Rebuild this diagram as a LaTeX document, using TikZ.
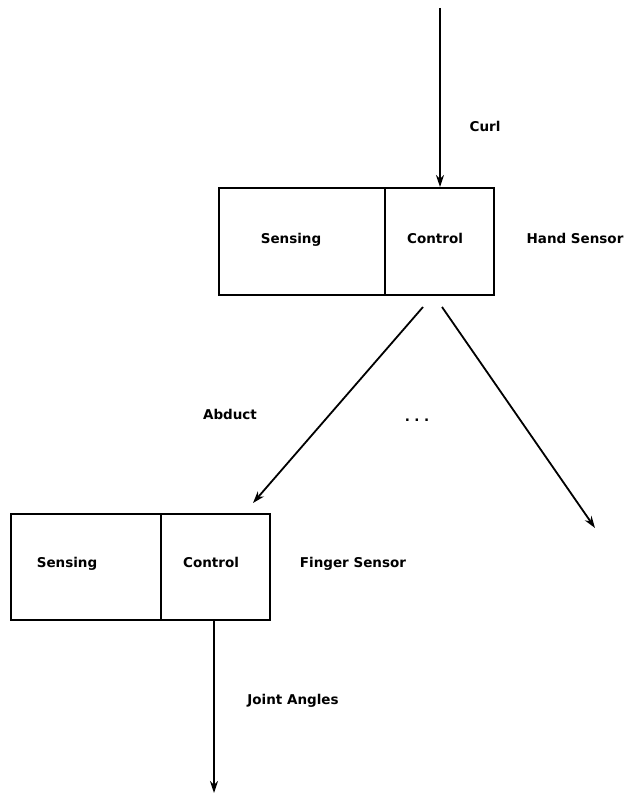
\documentclass[tikz,border=0pt]{standalone}
\usepackage{fontspec}
\setmainfont{DejaVu Sans}
\usetikzlibrary{arrows.meta}
\begin{document}
\begin{tikzpicture}[x=1pt,y=-1pt,
  lbl/.style={font=\fontsize{13.5}{16}\selectfont\bfseries, inner sep=0pt, text height=10pt, text depth=3pt},
  cell/.style={draw, line width=1.9pt, inner sep=0pt, anchor=north west},
  conn/.style={line width=1.8pt, -{Stealth[length=12pt,width=8pt]}}]
\useasboundingbox (0,0) rectangle (629,794);
% top box
\node[cell, minimum width=166pt, minimum height=107pt] (hs) at (218,187) {};
\node[cell, minimum width=109pt, minimum height=107pt] (hc) at (384,187) {};
\node[lbl] (hsl) at (291,240) {Sensing};
\node[lbl] (hcl) at (435,240) {Control};
\node[lbl] (hand) at (575,240) {Hand Sensor};
% bottom box
\node[cell, minimum width=150pt, minimum height=106pt] (fs) at (10,513) {};
\node[cell, minimum width=109pt, minimum height=106pt] (fc) at (160,513) {};
\node[lbl] (fsl) at (67,564) {Sensing};
\node[lbl] (fcl) at (211,564) {Control};
\node[lbl] (finger) at (353,564) {Finger Sensor};
% labels
\node[lbl] (curl) at (485,128) {Curl};
\node[lbl] (abduct) at (230,416) {Abduct};
\node[lbl] (joint) at (293,701) {Joint Angles};
\node[lbl] (dots) at (417,418) {.\,\,.\,\,.};
% coordinates
\coordinate (topin) at (440,8);
\coordinate (a1) at (423,307);
\coordinate (a2) at (253,503);
\coordinate (b1) at (442,307);
\coordinate (b2) at (595,528);
\coordinate (out) at (214,793);
% connectors
\draw[conn] (topin) -- (topin |- hc.north);
\draw[conn] (a1) -- (a2);
\draw[conn] (b1) -- (b2);
\draw[conn] (out |- fc.south) -- (out);
\end{tikzpicture}
\end{document}
